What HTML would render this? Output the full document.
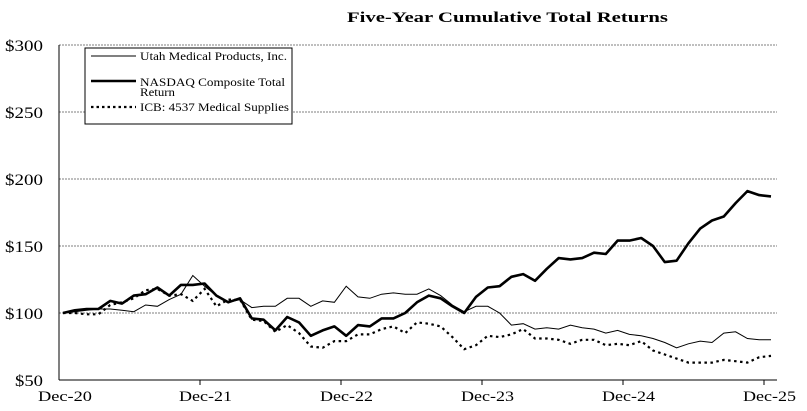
<!DOCTYPE html>
<html><head><meta charset="utf-8"><style>
html,body{margin:0;padding:0;background:#fff;}
svg{display:block;font-family:"Liberation Serif",serif;}
</style></head><body>
<svg id="c" width="807" height="411" xmlns="http://www.w3.org/2000/svg">
<text x="347" y="22" font-size="15" font-weight="bold" textLength="321" lengthAdjust="spacingAndGlyphs">Five-Year Cumulative Total Returns</text>
<g stroke="#555" stroke-width="0.8" stroke-dasharray="2,1">
<line x1="59" y1="45" x2="777" y2="45"/><line x1="59" y1="112" x2="777" y2="112"/>
<line x1="59" y1="179" x2="777" y2="179"/><line x1="59" y1="246" x2="777" y2="246"/>
<line x1="59" y1="313" x2="777" y2="313"/>
</g>
<g stroke="#000" stroke-width="1">
<line x1="59" y1="45" x2="59" y2="380"/><line x1="59" y1="380" x2="777" y2="380"/>
<line x1="200" y1="380" x2="200" y2="385"/><line x1="341" y1="380" x2="341" y2="385"/>
<line x1="482" y1="380" x2="482" y2="385"/><line x1="623" y1="380" x2="623" y2="385"/>
<line x1="764" y1="380" x2="764" y2="385"/>
</g>
<g font-size="16" lengthAdjust="spacingAndGlyphs">
<text x="5" y="51" textLength="38" lengthAdjust="spacingAndGlyphs">$300</text>
<text x="5" y="118" textLength="38" lengthAdjust="spacingAndGlyphs">$250</text>
<text x="5" y="185" textLength="38" lengthAdjust="spacingAndGlyphs">$200</text>
<text x="5" y="252" textLength="38" lengthAdjust="spacingAndGlyphs">$150</text>
<text x="5" y="319" textLength="38" lengthAdjust="spacingAndGlyphs">$100</text>
<text x="15" y="386" textLength="28" lengthAdjust="spacingAndGlyphs">$50</text>
</g>
<g font-size="15">
<text x="38" y="401" textLength="54" lengthAdjust="spacingAndGlyphs">Dec-20</text>
<text x="179" y="401" textLength="53" lengthAdjust="spacingAndGlyphs">Dec-21</text>
<text x="320" y="401" textLength="53" lengthAdjust="spacingAndGlyphs">Dec-22</text>
<text x="461" y="401" textLength="53" lengthAdjust="spacingAndGlyphs">Dec-23</text>
<text x="602" y="401" textLength="53" lengthAdjust="spacingAndGlyphs">Dec-24</text>
<text x="743" y="401" textLength="53" lengthAdjust="spacingAndGlyphs">Dec-25</text>
</g>
<rect x="85" y="48" width="207" height="76" fill="#fff" stroke="#000" stroke-width="1"/>
<line x1="91" y1="56" x2="136" y2="56" stroke="#000" stroke-width="1"/>
<line x1="91" y1="81" x2="136" y2="81" stroke="#000" stroke-width="2.5"/>
<line x1="91" y1="107" x2="136" y2="107" stroke="#000" stroke-width="2.2" stroke-dasharray="2.5,3"/>
<g font-size="11.5">
<text x="140" y="60" textLength="147" lengthAdjust="spacingAndGlyphs">Utah Medical Products, Inc.</text>
<text x="140" y="86" textLength="145" lengthAdjust="spacingAndGlyphs">NASDAQ Composite Total</text>
<text x="140" y="96" textLength="35" lengthAdjust="spacingAndGlyphs">Return</text>
<text x="140" y="111" textLength="149" lengthAdjust="spacingAndGlyphs">ICB: 4537 Medical Supplies</text>
</g>
<polyline id="u" fill="none" stroke="#000" stroke-width="1"/>
<polyline id="n" fill="none" stroke="#000" stroke-width="2.6" stroke-linejoin="round"/>
<polyline id="i" fill="none" stroke="#000" stroke-width="2.2" stroke-dasharray="2.5,3.5"/>
</svg>
<script>
var N=[100,102,103,103,109,107,113,114,119,113,121,121,122,113,108,111,96,95,87,97,93,83,87,90,83,91,90,96,96,100,108,113,111,105,100,112,119,120,127,129,124,133,141,140,141,145,144,154,154,156,150,138,139,152,163,169,172,182,191,188,187];
var U=[100,101,102,103,103,102,101,106,105,110,114,128,120,113,108,110,104,105,105,111,111,105,109,108,120,112,111,114,115,114,114,118,113,106,101,105,105,100,91,92,88,89,88,91,89,88,85,87,84,83,81,78,74,77,79,78,85,86,81,80,80];
var I=[100,100,99,99,106,108,111,117,118,113,114,109,118,105,110,110,95,94,86,91,85,75,74,79,79,84,84,88,90,85,93,92,90,82,73,76,83,82,84,88,81,81,80,77,80,80,76,77,76,79,72,69,66,63,63,63,65,64,63,67,68];
function pts(a){return a.map(function(v,k){return (63+k*11.8).toFixed(1)+","+(313-(v-100)*1.34).toFixed(1)}).join(" ");}
document.getElementById("u").setAttribute("points",pts(U));
document.getElementById("n").setAttribute("points",pts(N));
document.getElementById("i").setAttribute("points",pts(I));
</script>
</body></html>
